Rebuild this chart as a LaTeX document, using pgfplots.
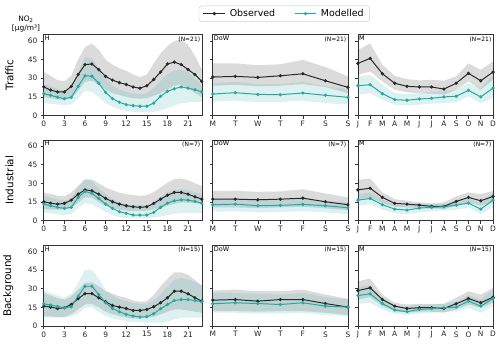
\documentclass[border=0pt]{standalone}
\usepackage{pgfplots}
\pgfplotsset{compat=1.18}
\usepackage{pgfplotstable}
\usepgfplotslibrary{fillbetween}
\usepackage{fontspec}
\setmainfont{DejaVu Sans}

\definecolor{modc}{RGB}{38,168,162}
\definecolor{obsc}{RGB}{40,40,40}

% columns: x, observed (mean, low, high), modelled (mean, low, high)
\pgfplotstableread{
x obs olo ohi mod mlo mhi
0 23 15 35 17.6 10 25
1 20.5 14 32 16.3 9.5 23.5
2 19 13 28.5 14.7 9 21.5
3 19 12.5 27.5 13.6 8.5 20
4 23.5 14 32 14.7 9 22
5 33 20 45 23.5 14 35
6 41 27 55 32 20 47
7 41.5 28 58 31.7 19 46
8 37 25 53 26 15 38
9 31.5 21 45 18.7 10 30
10 28.5 18 41 13.6 7 24
11 26.5 16.5 38 10.7 5 21
12 25 15 36 8.8 3.5 19
13 23 14 33 8 3 18
14 22 13.5 31 7.5 2.5 17
15 24 14 33 7.5 2.5 18
16 29 16 42 10 3 22
17 35 18 50 15.5 4 28
18 41.5 21 56 19.5 6 33
19 43 24 60 21.6 8 36
20 41 25 61 23 10 37
21 37 22 57 22 10.5 35
22 33 18 48 20.8 11 30
23 27.5 15 37 19 11 24
}\trafH
\pgfplotstableread{
x obs olo ohi mod mlo mhi
0 31 24 42 17.3 11.5 26
1 31.5 24.8 42 18.4 12 27
2 30.7 23.5 40.5 17 10.7 25.3
3 32 24 41.3 16.8 11 25.3
4 33.6 25.3 44.8 18.1 12 27
5 28 23 39 16.3 10 23.5
6 22.7 18 31.5 14.7 8.8 21.3
}\trafD
\pgfplotstableread{
x obs olo ohi mod mlo mhi
0 42 32.8 52.8 24 16.8 31.5
1 46 35.5 58 24.8 18 32.8
2 33.6 27.5 40.8 17.6 12.8 24.8
3 26 20.8 32 12.8 8.8 18
4 23.5 18.7 29.3 12.3 8 17.3
5 23 18 28.3 13.3 8.8 18
6 23 17.6 28.8 13.9 9.6 18.7
7 21.3 16.8 28 15 10 19.5
8 26 20.8 31.5 15.5 10.7 20.8
9 34 27.5 42 20.3 15.5 26
10 28 20.8 36.8 15 10 22
11 35 28.8 43.5 22.1 14 33
}\trafM
\pgfplotstableread{
x obs olo ohi mod mlo mhi
0 15.2 9.3 22.7 13.3 6.7 20
1 14 9 21.5 12 6 18.5
2 13.3 8.8 20 10.7 5 17
3 13.9 8.8 19.5 9.9 4.5 16
4 16.5 10.5 22.5 10.7 5.5 18
5 21.3 14.5 28 18.7 10 27
6 24.8 18.7 33.3 23.5 14.1 33.3
7 24 18.5 33.3 22.1 13.3 32
8 21.3 15 30 17.9 10 26
9 17.9 12 26.7 13.3 7.2 21.3
10 15.2 10 24.5 9.9 4.5 17.5
11 13.3 9 22.5 7.2 3 15
12 12 8 21.3 5.9 1.9 13.3
13 11.2 7.8 20.5 4.5 1.8 12.5
14 10.7 7.8 20 4.5 1.8 12.5
15 11.2 8 20.5 4.5 1.9 12.5
16 13.9 9 23 6.7 2.5 15
17 17.3 10.5 26.7 10.7 3.5 19
18 20.5 12 30.5 14.1 4.5 22.7
19 22.7 13.5 33.3 16 5.5 24.5
20 22.7 14.7 33.9 16.8 6.1 25.3
21 21.3 14.5 32.5 16.5 6.1 24.5
22 19.2 14 30 15.5 6.1 23
23 17.3 13.3 28 14.1 6.1 21.3
}\indH
\pgfplotstableread{
x obs olo ohi mod mlo mhi
0 17.3 10.7 24 12.8 7.2 17.3
1 17.3 10.7 24 13.3 7.5 17.9
2 16.8 10.1 23.2 12 6.7 16.5
3 17.3 10.7 23.5 12.3 6.9 16.8
4 18.1 11.2 25.3 13.1 7.5 17.9
5 15.2 9.9 21.9 12 6.7 16
6 12.8 8.5 18.7 10.4 5.3 14.7
}\indD
\pgfplotstableread{
x obs olo ohi mod mlo mhi
0 24.8 17.3 32.8 16.5 12 21.3
1 26.1 18.7 33.9 17.9 13.3 22.7
2 18.7 14.1 22.7 12.8 8.8 16.8
3 13.9 11.2 17.3 9.3 6.1 12.8
4 13.3 10.7 16 8.5 5.3 12
5 12.5 10.1 14.7 10.1 6.7 13.3
6 11.5 9.9 13.9 10.7 7.5 13.3
7 11.5 9.3 14.7 11.2 8 13.3
8 15.5 12 19.5 12.5 8.8 16
9 18.7 14.7 22.7 14.1 10.7 17.9
10 16 12 21.3 9.3 5.3 13.9
11 19.5 14.7 24 16.5 10.7 22.7
}\indM
\pgfplotstableread{
x obs olo ohi mod mlo mhi
0 16 8 26.7 17.9 6.7 28.5
1 15.2 7.7 24.5 16.8 6.7 26.5
2 14.1 7.3 22.5 15.7 6.7 24.5
3 14.7 7.2 21.3 14.7 6.7 22.7
4 17.3 9.5 24 15.5 7.5 26
5 21.9 13.5 29.3 24 10 34.7
6 26.1 17.3 34.7 32 14.7 45.3
7 26.1 17.9 35.2 32 15.2 45.3
8 22.7 15 32 25.3 11.5 38
9 19.5 11.5 28 18.7 8 29.3
10 16.5 9.5 26 14.1 6 24.5
11 15.2 8 24 11.5 5 21.5
12 14.1 6.7 22.7 9.3 4 20
13 12.5 6.2 20.5 8 3.3 18.7
14 12.5 5.9 19.5 7.2 3 18
15 13.3 6.5 20 7.5 2.7 17.9
16 15.5 7.5 25 9.9 2.7 20.5
17 18.7 9.3 32 13.9 2.7 25.3
18 22.7 11.5 38 17.3 3.5 31.5
19 28 13.3 43.2 20.5 5.3 37.3
20 28 13.3 43.2 21.3 6.7 38.7
21 25.9 12.5 41.3 21.3 6.7 37.5
22 22.7 11.5 37 20.5 6.7 35.5
23 20 10.7 32 19.5 6.7 33.3
}\bgH
\pgfplotstableread{
x obs olo ohi mod mlo mhi
0 20.8 12 28.5 17.9 10.7 26.7
1 21.3 12 29.3 18.7 10.7 26.7
2 20 11.5 28 18.1 9.9 25.9
3 21.3 12 28 17.3 9.9 25.3
4 21.3 12 29.3 18.7 10.7 26.7
5 18.1 10.7 25.3 16 8.8 23.2
6 15.2 8.8 21.9 15.2 8 21.3
}\bgD
\pgfplotstableread{
x obs olo ohi mod mlo mhi
0 28.5 21.3 36 24.5 17.9 31.2
1 30.7 23.2 38.1 25.9 18.7 32.8
2 21.3 16 25.3 18.1 13.3 22.7
3 16 12 18.7 12.8 9.9 16.5
4 14.1 10.7 17.3 11.5 8.8 15.5
5 14.7 11.5 17.9 13.3 9.9 17.3
6 14.7 11.5 17.9 13.9 10.7 17.3
7 14.1 10.7 17.9 14.7 11.5 17.9
8 17.9 13.3 22.7 15.2 11.5 19.2
9 22.1 17.3 28 20 14.7 24.8
10 18.7 14.7 25.3 16 10.7 21.3
11 23.2 18.7 30.7 22.1 16 29.3
}\bgM

\newcommand\panel[3]{% table, period tag, station count
  \addplot[name path=oh, draw=none, forget plot] table[x=x,y=ohi]{#1};
  \addplot[name path=ol, draw=none, forget plot] table[x=x,y=olo]{#1};
  \addplot[fill=black, fill opacity=0.14, draw=none, forget plot] fill between[of=oh and ol];
  \addplot[name path=mh, draw=none, forget plot] table[x=x,y=mhi]{#1};
  \addplot[name path=ml, draw=none, forget plot] table[x=x,y=mlo]{#1};
  \addplot[fill=modc, fill opacity=0.16, draw=none, forget plot] fill between[of=mh and ml];
  \addplot[obsline] table[x=x,y=obs]{#1};
  \addplot[modline] table[x=x,y=mod]{#1};
  \node[anchor=north west, inner sep=1pt, font=\fontsize{6.5}{7}\selectfont] at (rel axis cs:0,1) {#2};
  \node[anchor=north east, inner sep=1.5pt, font=\fontsize{6}{7}\selectfont] at (rel axis cs:1,1) {(N=#3)};
}

\pgfplotsset{
  obsline/.style={color=obsc, line width=1pt, mark=*, mark size=1.1pt},
  modline/.style={color=modc, line width=1pt, mark=*, mark size=1.1pt},
  base/.style={scale only axis, anchor=south west, height=81.25pt,
    ymin=0, ymax=65, ytick={0,15,30,45,60},
    tick align=outside, tick pos=left, major tick length=3pt,
    axis line style={black!80, line width=0.6pt},
    tick style={black!80, line width=0.6pt},
    ticklabel style={font=\fontsize{7.5}{8}\selectfont, text=black!85},
    xticklabel style={yshift=1pt},
    /pgf/number format/assume math mode=true,
    ylabel style={font=\fontsize{10.5}{12}\selectfont, at={(axis description cs:-0.17,0.5)}, anchor=south}},
  colH/.style={base, width=159pt, xmin=0, xmax=23, xtick={0,3,...,21}},
  colD/.style={base, width=136pt, xmin=0, xmax=6, xtick={0,...,6},
    xticklabels={M,T,W,T,F,S,S}, yticklabels={}},
  colM/.style={base, width=136pt, xmin=0, xmax=11, xtick={0,...,11},
    xticklabels={J,F,M,A,M,J,J,A,S,O,N,D}, yticklabels={}},
}

\begin{document}
\begin{tikzpicture}

% row 1: traffic
\begin{axis}[colH, at={(41pt,229.75pt)}, ylabel={Traffic},
  legend columns=2,
  legend style={at={(1.522,1.262)}, anchor=center, draw=black!20, rounded corners=2pt,
    font=\fontsize{9.5}{11}\selectfont, inner xsep=4pt, inner ysep=1.5pt,
    /tikz/every even column/.append style={column sep=17pt},
    /tikz/every odd column/.append style={column sep=2pt}},
  legend image code/.code={\draw[mark repeat=2, mark phase=2] plot coordinates {(0pt,0pt) (11pt,0pt) (22pt,0pt)};}]
\panel{\trafH}{H}{21}
\legend{Observed, Modelled}
\end{axis}
\begin{axis}[colD, at={(211pt,229.75pt)}]
\panel{\trafD}{DoW}{21}
\end{axis}
\begin{axis}[colM, at={(357pt,229.75pt)}]
\panel{\trafM}{M}{21}
\end{axis}

% row 2: industrial
\begin{axis}[colH, at={(41pt,124pt)}, ylabel={Industrial}]
\panel{\indH}{H}{7}
\end{axis}
\begin{axis}[colD, at={(211pt,124pt)}]
\panel{\indD}{DoW}{7}
\end{axis}
\begin{axis}[colM, at={(357pt,124pt)}]
\panel{\indM}{M}{7}
\end{axis}

% row 3: background
\begin{axis}[colH, at={(41pt,18pt)}, ylabel={Background}]
\panel{\bgH}{H}{15}
\end{axis}
\begin{axis}[colD, at={(211pt,18pt)}]
\panel{\bgD}{DoW}{15}
\end{axis}
\begin{axis}[colM, at={(357pt,18pt)}]
\panel{\bgM}{M}{15}
\end{axis}

\node[align=center, font=\fontsize{7.5}{9}\selectfont, inner sep=0pt] at (23pt,322pt) {NO\textsubscript{2}\\{[}µg/m³{]}};
\path (0pt,0pt) rectangle (500pt,346pt);
\end{tikzpicture}
\end{document}
